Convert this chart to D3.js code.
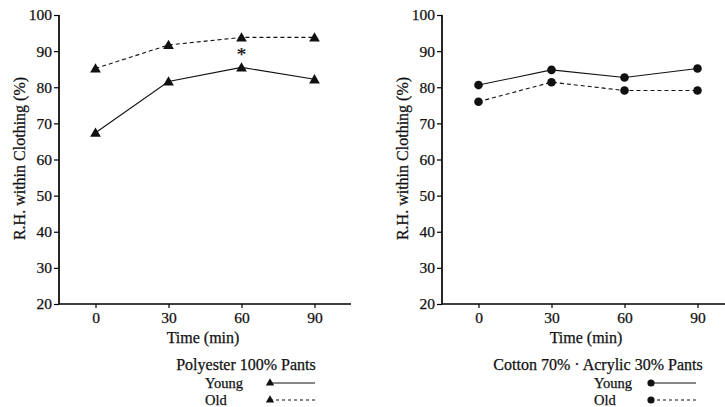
<!DOCTYPE html>
<html>
<head>
<meta charset="utf-8">
<script src="https://cdn.jsdelivr.net/npm/d3@7"></script>
<style>
  body { margin: 0; background: #fff; }
  svg { display: block; }
  text { font-family: "Liberation Serif", "Times New Roman", serif; fill: #111; stroke: #111; stroke-width: 0.25px; }
</style>
</head>
<body>
<script>
// Data
const times = [0, 30, 60, 90];
const yTicks = [20, 30, 40, 50, 60, 70, 80, 90, 100];

const polyYoung = [67.4, 81.6, 85.5, 82.2];
const polyOld = [85.2, 91.7, 93.8, 93.8];
const cottonYoung = [80.6, 84.8, 82.7, 85.2];
const cottonOld = [76.0, 81.4, 79.1, 79.1];

const width = 725;
const height = 407;

const svg = d3
  .select("body")
  .append("svg")
  .attr("width", width)
  .attr("height", height)
  .attr("viewBox", [0, 0, width, height]);

// One panel: axes, two series, caption and legend
function drawPanel(opts) {
  const { left, title, young, old, marker, star } = opts;
  const axisWidth = 292;

  const x = d3.scaleLinear().domain([-15, 105]).range([left, left + axisWidth]);
  const y = d3.scaleLinear().domain([20, 100]).range([304, 15]);

  const g = svg.append("g");

  // Y axis
  g.append("g")
    .attr("transform", `translate(${left},0)`)
    .call(d3.axisLeft(y).tickValues(yTicks).tickSize(5).tickPadding(2))
    .call((a) => a.select(".domain").attr("stroke-width", 1.7).attr("d", `M0,${y(100)}V${y(20)}`))
    .call((a) => a.selectAll(".tick line").attr("stroke-width", 1.2))
    .call((a) => a.selectAll("text").attr("font-size", 15.5).attr("font-family", "Liberation Serif"));

  // X axis
  g.append("g")
    .attr("transform", `translate(0,${y(20)})`)
    .call(d3.axisBottom(x).tickValues(times).tickSize(4).tickPadding(4))
    .call((a) => a.select(".domain").attr("stroke-width", 1.7).attr("d", `M${left},0H${left + axisWidth}`))
    .call((a) => a.selectAll(".tick line").attr("stroke-width", 1.2))
    .call((a) => a.selectAll("text").attr("font-size", 15.5).attr("font-family", "Liberation Serif"));

  // Axis titles
  g.append("text")
    .attr("transform", `translate(${left - 34},${(y(20) + y(100)) / 2 - 1}) rotate(-90)`)
    .attr("text-anchor", "middle")
    .attr("font-size", 16)
    .text("R.H. within Clothing (%)");

  g.append("text")
    .attr("x", left + axisWidth / 2 - 2)
    .attr("y", 343)
    .attr("text-anchor", "middle")
    .attr("font-size", 16)
    .text("Time (min)");

  const line = d3
    .line()
    .x((d, i) => x(times[i]))
    .y((d) => y(d));

  const series = [
    { values: young, dash: null },
    { values: old, dash: "4,3" },
  ];

  const tri = d3.symbol().type(d3.symbolTriangle).size(50);
  const triSmall = d3.symbol().type(d3.symbolTriangle).size(30);

  series.forEach((s) => {
    g.append("path")
      .datum(s.values)
      .attr("fill", "none")
      .attr("stroke", "#111")
      .attr("stroke-width", 1.1)
      .attr("stroke-dasharray", s.dash)
      .attr("d", line);

    if (marker === "triangle") {
      g.selectAll(null)
        .data(s.values)
        .join("path")
        .attr("d", tri)
        .attr("transform", (d, i) => `translate(${x(times[i])},${y(d) + 1})`)
        .attr("fill", "#111");
    } else {
      g.selectAll(null)
        .data(s.values)
        .join("circle")
        .attr("cx", (d, i) => x(times[i]))
        .attr("cy", (d) => y(d))
        .attr("r", 4.3)
        .attr("fill", "#111");
    }
  });

  // significance mark
  if (star != null) {
    g.append("text")
      .attr("x", x(times[star]))
      .attr("y", 61)
      .attr("text-anchor", "middle")
      .attr("font-size", 19)
      .text("*");
  }

  // Caption
  g.append("text")
    .attr("x", opts.titleX)
    .attr("y", 370)
    .attr("text-anchor", "middle")
    .attr("font-size", 16)
    .text(title);

  // Legend
  const legend = [
    { label: "Young", dash: null, yy: 388 },
    { label: "Old", dash: "3,3", yy: 405 },
  ];
  legend.forEach((l) => {
    g.append("text")
      .attr("x", opts.legendX)
      .attr("y", l.yy)
      .attr("font-size", 14.5)
      .text(l.label);
    const mx = opts.legendX + 65 + (marker === "circle" ? -8 : 0);
    g.append("line")
      .attr("x1", mx)
      .attr("x2", mx + 45)
      .attr("y1", l.yy - 5)
      .attr("y2", l.yy - 5)
      .attr("stroke", "#111")
      .attr("stroke-width", 1.1)
      .attr("stroke-dasharray", l.dash);
    if (marker === "triangle") {
      g.append("path")
        .attr("d", triSmall)
        .attr("transform", `translate(${mx},${l.yy - 5})`)
        .attr("fill", "#111");
    } else {
      g.append("circle")
        .attr("cx", mx)
        .attr("cy", l.yy - 5)
        .attr("r", 3.6)
        .attr("fill", "#111");
    }
  });
}

drawPanel({
  left: 59,
  title: "Polyester 100% Pants",
  young: polyYoung,
  old: polyOld,
  marker: "triangle",
  star: 2,
  titleX: 246,
  legendX: 205,
});

drawPanel({
  left: 442,
  title: "Cotton 70% · Acrylic 30% Pants",
  young: cottonYoung,
  old: cottonOld,
  marker: "circle",
  star: null,
  titleX: 598,
  legendX: 594,
});
</script>
</body>
</html>
